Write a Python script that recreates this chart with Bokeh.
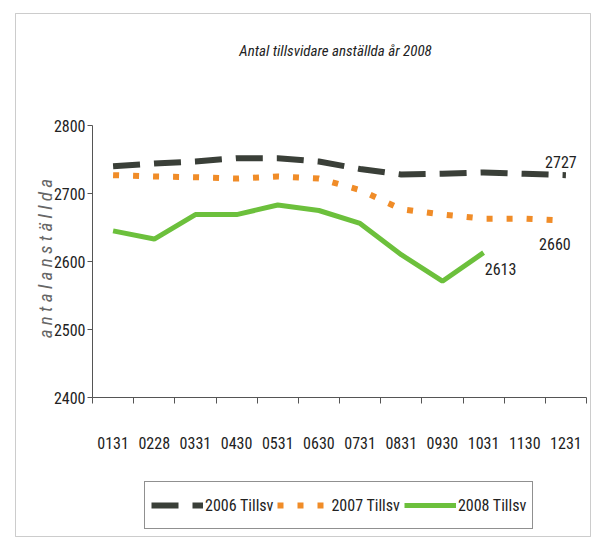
import math
from bokeh.plotting import figure
from bokeh.models import FixedTicker, Legend, LegendItem, BoxAnnotation, Label, Range1d
from bokeh.embed import file_html
from bokeh.resources import INLINE

months = ["0131", "0228", "0331", "0430", "0531", "0630",
          "0731", "0831", "0930", "1031", "1130", "1231"]
s2006 = [2740, 2744, 2747, 2752, 2752, 2747, 2736, 2728, 2729, 2731, 2729, 2727]
s2007 = [2727, 2725, 2724, 2722, 2725, 2722, 2705, 2677, 2669, 2663, 2663, 2660]
s2008 = [2645, 2633, 2669, 2669, 2683, 2675, 2656, 2610, 2571, 2613]
names = ["2006 Tillsv", "2007 Tillsv", "2008 Tillsv"]
y_ticks = [2400, 2500, 2600, 2700, 2800]
title_text = "Antal tillsvidare anställda år 2008"
y_label = "a n t a l  a n s t ä l l d a"

FONT = "'Roboto Condensed', 'DejaVu Sans Condensed', 'Liberation Sans', sans-serif"

# canvas layout (pixels)
W, H = 594, 537
PX_L, PX_R = 92, 586
PY_T, PY_B = 125, 397
ncat = len(months)
kx = (PX_R - PX_L) / ncat
x0 = -PX_L / kx
x1 = x0 + W / kx
ky = (PY_B - PY_T) / (y_ticks[-1] - y_ticks[0])
y1 = y_ticks[-1] + PY_T / ky
y0 = y1 - H / ky


def dx(px):
    return x0 + px / kx


def dy(py):
    return y1 - py / ky


x = [i + 0.5 for i in range(ncat)]

p = figure(frame_width=W, frame_height=H, x_range=Range1d(x0, x1), y_range=Range1d(y0, y1),
           output_backend="svg", toolbar_location=None, min_border=0)
p.background_fill_color = "white"
p.border_fill_color = "white"
p.outline_line_color = None
p.grid.visible = False

# x axis
xa = p.xaxis[0]
xa.fixed_location = y_ticks[0]
xa.bounds = (0, ncat)
xa.ticker = FixedTicker(ticks=x, minor_ticks=list(range(0, ncat + 1)))
xa.major_label_overrides = {xi: m for xi, m in zip(x, months)}
xa.major_tick_line_color = None
xa.major_tick_in = 0
xa.major_tick_out = 0
xa.minor_tick_line_color = "#555555"
xa.minor_tick_in = 0
xa.minor_tick_out = 6
xa.major_label_standoff = 33
xa.major_label_text_font = FONT
xa.major_label_text_font_size = "16px"
xa.major_label_text_color = "#222222"
xa.axis_line_color = "#555555"

# y axis
ya = p.yaxis[0]
ya.fixed_location = 0
ya.bounds = (y_ticks[0], y_ticks[-1])
ya.ticker = FixedTicker(ticks=y_ticks, minor_ticks=[])
ya.major_tick_in = 0
ya.major_tick_out = 5
ya.major_tick_line_color = "#555555"
ya.axis_line_color = "#555555"
ya.major_label_standoff = 2
ya.major_label_text_font = FONT
ya.major_label_text_font_size = "16px"
ya.major_label_text_color = "#222222"

p.add_layout(Label(x=dx(45), y=dy(256), text=y_label, angle=math.pi / 2,
                   text_align="center", text_baseline="middle", text_font=FONT,
                   text_font_style="italic", text_font_size="19px", text_color="#666666"))

p.add_layout(Label(x=dx(335), y=dy(50), text=title_text,
                   text_align="center", text_baseline="middle", text_font=FONT,
                   text_font_style="italic", text_font_size="15px", text_color="#222222"))

r1 = p.line(x, s2006, line_color="#3a3f38", line_width=6, line_dash="27 14")
r2 = p.line(x, s2007, line_color="#f08c28", line_width=6, line_dash="6 14")
r3 = p.line(x[:len(s2008)], s2008, line_color="#6cc03c", line_width=5)

lbl = dict(text_font_size="16px", text_color="#222222", text_align="center",
           text_baseline="middle")
p.text(x=[x[-1]], y=[s2006[-1]], text=[str(s2006[-1])], x_offset=-5, y_offset=-13,
       text_font={"value": FONT}, **lbl)
p.text(x=[x[-1]], y=[s2007[-1]], text=[str(s2007[-1])], x_offset=-11, y_offset=23,
       text_font={"value": FONT}, **lbl)
p.text(x=[x[len(s2008) - 1]], y=[s2008[-1]], text=[str(s2008[-1])], x_offset=17, y_offset=16,
       text_font={"value": FONT}, **lbl)

legend = Legend(items=[LegendItem(label=names[0], renderers=[r1]),
                       LegendItem(label=names[1], renderers=[r2]),
                       LegendItem(label=names[2], renderers=[r3])],
                orientation="horizontal", location=(144, 8),
                glyph_width=52, glyph_height=34, label_standoff=2, spacing=4,
                padding=6, margin=0, border_line_color="#222222",
                label_text_font=FONT, label_text_font_size="16px",
                label_text_color="#222222")
p.add_layout(legend, "center")

p.add_layout(BoxAnnotation(left=dx(15), right=dx(590), top=dy(13), bottom=dy(536),
                           fill_alpha=0, line_color="#555555", line_width=1))

open("out.html", "w").write(file_html(p, INLINE))
